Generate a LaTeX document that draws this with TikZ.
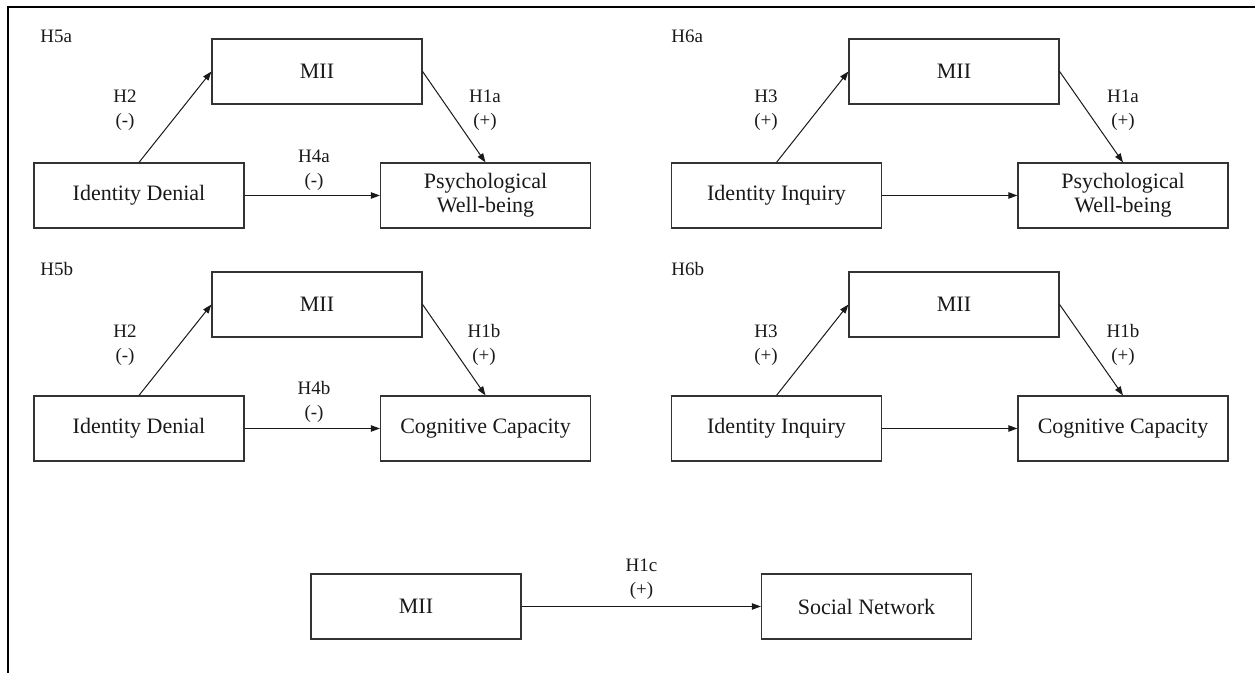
\documentclass[tikz,border=0pt]{standalone}
\usepackage{fontspec}
\setmainfont{Liberation Serif}
\usetikzlibrary{arrows.meta}
\tikzset{
  boxnode/.style={draw=black!80, line width=0.6pt, minimum width=105pt, minimum height=32.5pt,
    inner sep=0pt, align=center, font=\fontsize{11}{12}\selectfont, text=black!90},
  lbl/.style={inner sep=0pt, align=center, font=\fontsize{9.5}{12}\selectfont, text=black!90},
  conn/.style={draw=black!90, line width=0.5pt, -{Triangle[length=4.5pt,width=3.2pt]}},
  frameline/.style={line width=1pt, black}
}
\begin{document}
\begin{tikzpicture}[x=0.5pt, y=-0.5pt]
\useasboundingbox (0,0) rectangle (1255,673);
% frame (top and left edges only)
\coordinate (fl) at (8,673);
\coordinate (fc) at (8,7);
\coordinate (fr) at (1255,7);
\draw[frameline] (fl) -- (fc) -- (fr);

% ---------- Panel H5a ----------
\node[lbl, anchor=west] (t1) at (40,36) {H5a};
\node[boxnode] (m1) at (317,71.5) {MII};
\node[boxnode] (a1) at (139,195.5) {Identity Denial};
\node[boxnode] (b1) at (485.5,195.5) {Psychological\\Well-being};
\draw[conn] (a1.north) -- (m1.west);
\draw[conn] (m1.east) -- (b1.north);
\draw[conn] (a1.east) -- (b1.west);
\node[lbl] (l1a) at (125,110) {H2\\(-)};
\node[lbl] (l1b) at (485,110) {H1a\\(+)};
\node[lbl] (l1c) at (314,170.5) {H4a\\(-)};

% ---------- Panel H6a ----------
\node[lbl, anchor=west] (t2) at (671,36) {H6a};
\node[boxnode] (m2) at (954,71.5) {MII};
\node[boxnode] (a2) at (776.5,195.5) {Identity Inquiry};
\node[boxnode] (b2) at (1123,195.5) {Psychological\\Well-being};
\draw[conn] (a2.north) -- (m2.west);
\draw[conn] (m2.east) -- (b2.north);
\draw[conn] (a2.east) -- (b2.west);
\node[lbl] (l2a) at (766,110) {H3\\(+)};
\node[lbl] (l2b) at (1123,110) {H1a\\(+)};

% ---------- Panel H5b ----------
\node[lbl, anchor=west] (t3) at (40,269) {H5b};
\node[boxnode] (m3) at (317,304.5) {MII};
\node[boxnode] (a3) at (139,428.5) {Identity Denial};
\node[boxnode] (b3) at (485.5,428.5) {Cognitive Capacity};
\draw[conn] (a3.north) -- (m3.west);
\draw[conn] (m3.east) -- (b3.north);
\draw[conn] (a3.east) -- (b3.west);
\node[lbl] (l3a) at (125,345) {H2\\(-)};
\node[lbl] (l3b) at (484,345) {H1b\\(+)};
\node[lbl] (l3c) at (314,402) {H4b\\(-)};

% ---------- Panel H6b ----------
\node[lbl, anchor=west] (t4) at (671,269) {H6b};
\node[boxnode] (m4) at (954,304.5) {MII};
\node[boxnode] (a4) at (776.5,428.5) {Identity Inquiry};
\node[boxnode] (b4) at (1123,428.5) {Cognitive Capacity};
\draw[conn] (a4.north) -- (m4.west);
\draw[conn] (m4.east) -- (b4.north);
\draw[conn] (a4.east) -- (b4.west);
\node[lbl] (l4a) at (766,345) {H3\\(+)};
\node[lbl] (l4b) at (1123,345) {H1b\\(+)};

% ---------- Panel H1c ----------
\node[boxnode] (m5) at (416,606.5) {MII};
\node[boxnode] (s5) at (866.5,606.5) {Social Network};
\draw[conn] (m5.east) -- (s5.west);
\node[lbl] (l5) at (641.5,579) {H1c\\(+)};
\end{tikzpicture}
\end{document}
